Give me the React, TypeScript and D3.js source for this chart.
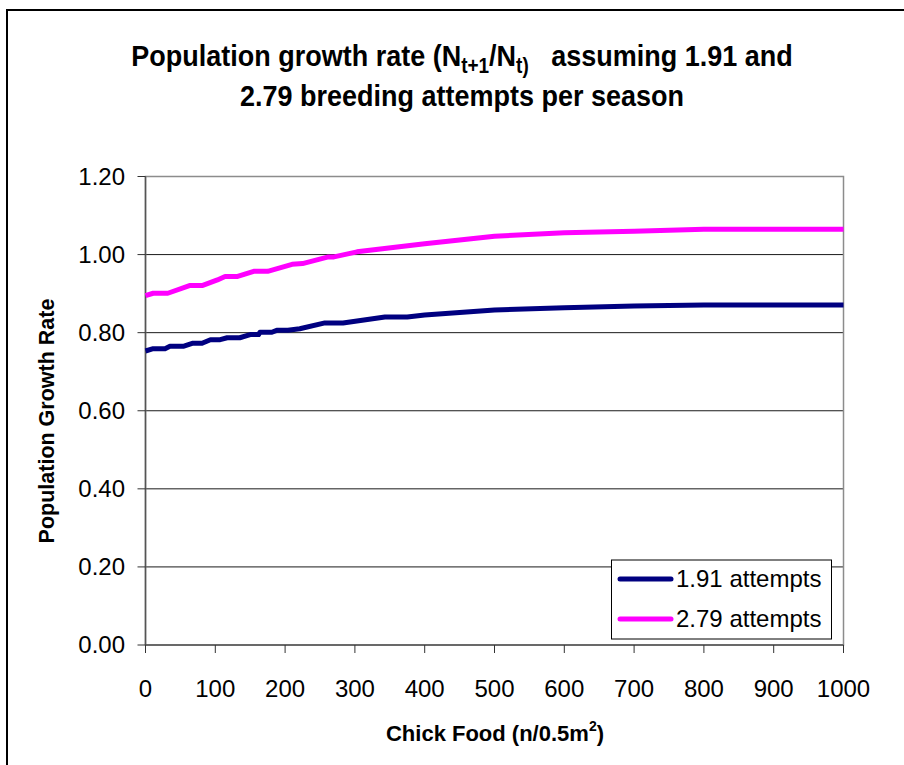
import React from "react";
import * as d3 from "d3";

const xTicks = [0, 100, 200, 300, 400, 500, 600, 700, 800, 900, 1000];
const yTicks = [0, 0.2, 0.4, 0.6, 0.8, 1.0, 1.2];

const navyX = [0, 11, 28, 35, 54, 68, 81, 93, 107, 117, 135, 150, 162, 164, 181, 188, 204, 221, 257, 283, 343, 375, 400, 500, 600, 700, 800, 900, 1000];
const navyY = [0.753, 0.759, 0.759, 0.765, 0.765, 0.773, 0.773, 0.782, 0.782, 0.787, 0.787, 0.795, 0.795, 0.801, 0.801, 0.806, 0.806, 0.81, 0.825, 0.825, 0.84, 0.84, 0.845, 0.858, 0.864, 0.868, 0.871, 0.871, 0.871];

const pinkX = [0, 11, 32, 64, 82, 103, 114, 132, 155, 175, 210, 225, 262, 270, 303, 400, 500, 600, 700, 800, 900, 1000];
const pinkY = [0.895, 0.901, 0.901, 0.921, 0.921, 0.935, 0.944, 0.944, 0.957, 0.957, 0.975, 0.977, 0.994, 0.994, 1.007, 1.028, 1.047, 1.056, 1.06, 1.065, 1.065, 1.065];

const seriesNames = ["1.91 attempts", "2.79 attempts"];
const seriesColors = ["#000080", "#FF00FF"];

export default function App() {
  const W = 904, H = 765;
  const x = d3.scaleLinear().domain([0, 1000]).range([145.5, 843.5]);
  const y = d3.scaleLinear().domain([0, 1.2]).range([645, 176.5]);
  const line = d3.line<[number, number]>().x(d => x(d[0])).y(d => y(d[1]));
  const navy: [number, number][] = navyX.map((v, i) => [v, navyY[i]]);
  const pink: [number, number][] = pinkX.map((v, i) => [v, pinkY[i]]);
  const font = "'Liberation Sans', Arial, Helvetica, sans-serif";
  return (
    <svg width={W} height={H} style={{ position: "absolute", left: 0, top: 0, background: "#fff" }} fontFamily={font}>
      <rect x={0} y={0} width={W} height={H} fill="#fff" />
      {/* outer chart border */}
      <line x1={7} y1={9} x2={7} y2={H} stroke="#000" strokeWidth={2} />
      <line x1={6} y1={10} x2={W} y2={10} stroke="#000" strokeWidth={2} />
      {/* title */}
      <g transform="translate(462,0) scale(1,1.12)">
        <text x={0} y={59} textAnchor="middle" fontSize={27} fontWeight="bold">
          Population growth rate (N<tspan fontSize={19} dy={6}>t+1</tspan><tspan dy={-6}>/N</tspan><tspan fontSize={19} dy={6}>t)</tspan><tspan dy={-6}>{"\u00a0\u00a0 assuming 1.91 and"}</tspan>
        </text>
        <text x={0} y={95} textAnchor="middle" fontSize={27} fontWeight="bold">2.79 breeding attempts per season</text>
      </g>
      {/* gridlines */}
      {yTicks.slice(1, -1).map(t => (
        <line key={t} x1={x(0)} x2={x(1000)} y1={y(t)} y2={y(t)} stroke="#1a1a1a" strokeWidth={1} />
      ))}
      {/* plot area border */}
      <rect x={x(0)} y={y(1.2)} width={x(1000) - x(0)} height={y(0) - y(1.2)} fill="none" stroke="#8c8c8c" strokeWidth={1.5} />
      {/* axes */}
      <line x1={x(0)} x2={x(0)} y1={y(1.2)} y2={y(0)} stroke="#555" strokeWidth={1.5} />
      <line x1={x(0)} x2={x(1000)} y1={y(0)} y2={y(0)} stroke="#555" strokeWidth={1.5} />
      {yTicks.map(t => (
        <g key={t}>
          <line x1={x(0) - 8} x2={x(0)} y1={y(t)} y2={y(t)} stroke="#333" strokeWidth={1} />
          <text x={125} y={y(t)} dy="0.35em" textAnchor="end" fontSize={24}>{t.toFixed(2)}</text>
        </g>
      ))}
      {xTicks.map(t => (
        <g key={t}>
          <line x1={x(t)} x2={x(t)} y1={y(0)} y2={y(0) + 8} stroke="#333" strokeWidth={1} />
          <text x={x(t)} y={697} textAnchor="middle" fontSize={24}>{t}</text>
        </g>
      ))}
      {/* axis titles */}
      <text x={495} y={741} textAnchor="middle" fontSize={22} fontWeight="bold">
        Chick Food (n/0.5m<tspan fontSize={14} dy={-10}>2</tspan><tspan dy={10}>)</tspan>
      </text>
      <text transform={`translate(54, 421) rotate(-90)`} textAnchor="middle" fontSize={21.5} fontWeight="bold">Population Growth Rate</text>
      {/* lines */}
      <path d={line(navy) || ""} fill="none" stroke={seriesColors[0]} strokeWidth={5} strokeLinejoin="round" />
      <path d={line(pink) || ""} fill="none" stroke={seriesColors[1]} strokeWidth={5} strokeLinejoin="round" />
      {/* legend */}
      <rect x={611.5} y={560} width={220} height={79} fill="#fff" stroke="#000" strokeWidth={1} />
      {seriesNames.map((n, i) => (
        <g key={n}>
          <line x1={620} x2={671} y1={579 + i * 40} y2={579 + i * 40} stroke={seriesColors[i]} strokeWidth={5} strokeLinecap="round" />
          <text x={676} y={579 + i * 40} dy="0.35em" fontSize={24}>{n}</text>
        </g>
      ))}
    </svg>
  );
}
